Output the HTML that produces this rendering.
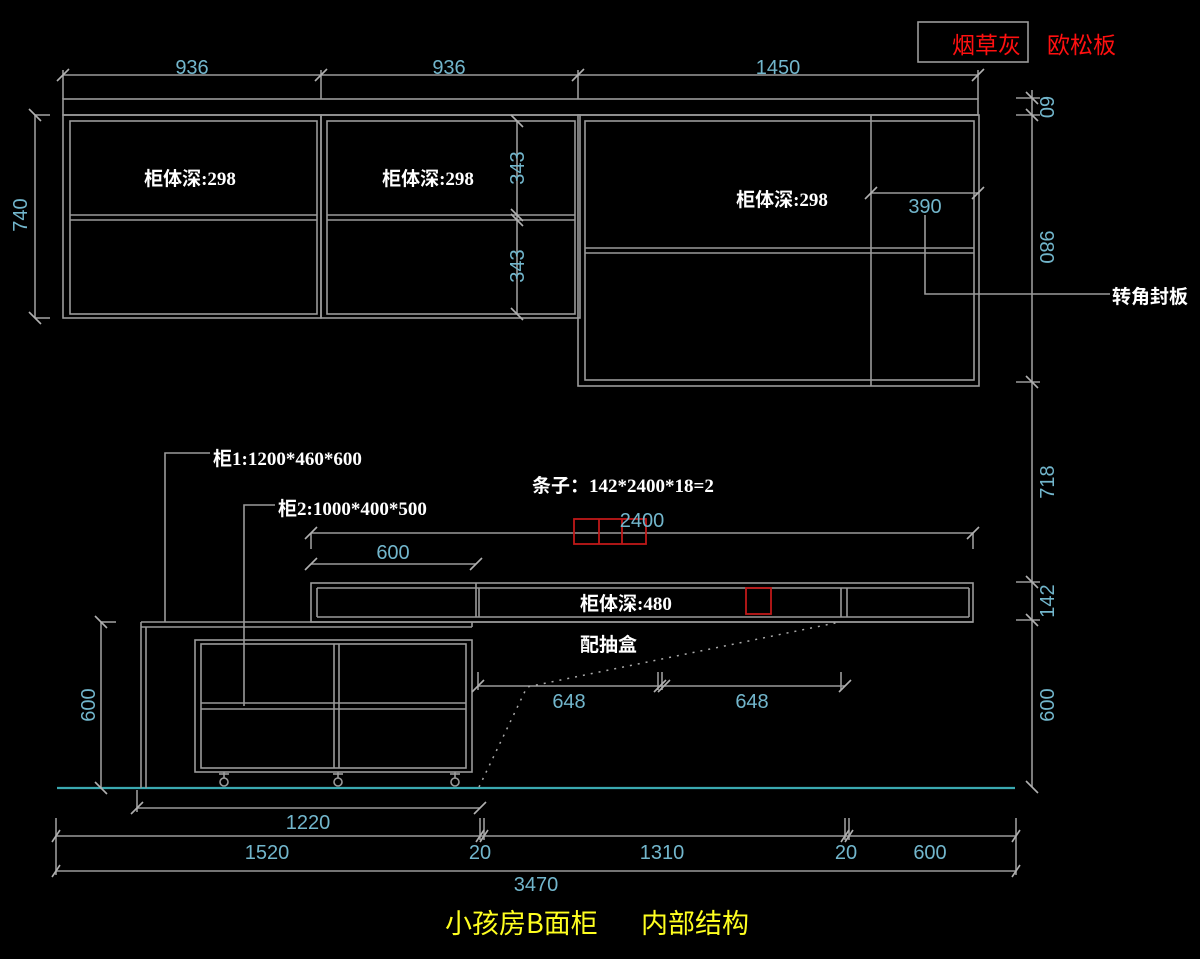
<!DOCTYPE html>
<html><head><meta charset="utf-8"><style>
html,body{margin:0;padding:0;background:#000;}
svg{display:block;}
.l{stroke:#9a9a9a;stroke-width:1.6;fill:none;}
.t{stroke:#b0b0b0;stroke-width:1.6;}
.d{fill:#72b6cc;font-family:"Liberation Sans",sans-serif;font-size:20px;}
.w{fill:#fff;font-family:"Liberation Serif","Noto Sans CJK SC",serif;font-size:19px;font-weight:bold;}
</style></head><body>
<svg width="1200" height="959" viewBox="0 0 1200 959" xmlns="http://www.w3.org/2000/svg">
<rect width="1200" height="959" fill="#000"/>
<!-- top legend -->
<rect x="918" y="22" width="110" height="40" fill="none" stroke="#9a9a9a" stroke-width="1.6"/>
<text x="952" y="53" fill="#ff1010" font-family="'Noto Sans CJK SC',sans-serif" font-size="23">烟草灰</text>
<text x="1047" y="53" fill="#ff1010" font-family="'Noto Sans CJK SC',sans-serif" font-size="23">欧松板</text>

<!-- top dims -->
<g class="l">
<line x1="63" y1="75" x2="978" y2="75"/>
<line x1="63" y1="70" x2="63" y2="99"/><line x1="321" y1="70" x2="321" y2="99"/><line x1="578" y1="70" x2="578" y2="99"/><line x1="978" y1="70" x2="978" y2="99"/>
</g>
<g class="t">
<line x1="57" y1="81" x2="69" y2="69"/><line x1="315" y1="81" x2="327" y2="69"/><line x1="572" y1="81" x2="584" y2="69"/><line x1="972" y1="81" x2="984" y2="69"/>
</g>
<text class="d" x="192" y="74" text-anchor="middle">936</text>
<text class="d" x="449" y="74" text-anchor="middle">936</text>
<text class="d" x="778" y="74" text-anchor="middle">1450</text>

<!-- top board -->
<g class="l">
<rect x="63" y="99" width="915" height="16"/>
<!-- left cabinet -->
<rect x="63" y="115" width="258" height="203"/>
<rect x="70" y="121" width="247" height="193"/>
<line x1="70" y1="215" x2="317" y2="215"/><line x1="70" y1="220" x2="317" y2="220"/>
<!-- mid cabinet -->
<rect x="321" y="115" width="259" height="203"/>
<rect x="327" y="121" width="248" height="193"/>
<line x1="327" y1="215" x2="575" y2="215"/><line x1="327" y1="220" x2="575" y2="220"/>
<!-- right cabinet -->
<rect x="578" y="115" width="401" height="271"/>
<rect x="585" y="121" width="389" height="259"/>
<line x1="585" y1="248" x2="974" y2="248"/><line x1="585" y1="253" x2="974" y2="253"/>
<line x1="871" y1="115" x2="871" y2="386"/>
<!-- 740 -->
<line x1="35" y1="115" x2="35" y2="318"/><line x1="35" y1="115" x2="50" y2="115"/><line x1="35" y1="318" x2="50" y2="318"/>
<!-- 343 -->
<line x1="517" y1="121" x2="517" y2="314"/>
<!-- 390 -->
<line x1="871" y1="193" x2="978" y2="193"/>
<polyline points="925,215 925,294 1110,294"/>
<!-- right verticals -->
<line x1="1032" y1="90" x2="1032" y2="787"/>
<line x1="1016" y1="98" x2="1040" y2="98"/><line x1="1016" y1="115" x2="1040" y2="115"/><line x1="1016" y1="382" x2="1040" y2="382"/>
<line x1="1016" y1="582" x2="1040" y2="582"/><line x1="1016" y1="620" x2="1040" y2="620"/>
</g>
<g class="t">
<line x1="29" y1="109" x2="41" y2="121"/><line x1="29" y1="312" x2="41" y2="324"/>
<line x1="511" y1="115" x2="523" y2="127"/><line x1="511" y1="209" x2="523" y2="221"/><line x1="511" y1="214" x2="523" y2="226"/><line x1="511" y1="308" x2="523" y2="320"/>
<line x1="865" y1="199" x2="877" y2="187"/><line x1="972" y1="199" x2="984" y2="187"/>
<line x1="1026" y1="92" x2="1038" y2="104"/><line x1="1026" y1="109" x2="1038" y2="121"/><line x1="1026" y1="376" x2="1038" y2="388"/>
<line x1="1026" y1="576" x2="1038" y2="588"/><line x1="1026" y1="614" x2="1038" y2="626"/><line x1="1026" y1="781" x2="1038" y2="793"/>
</g>
<text class="d" transform="translate(27,215) rotate(-90)" text-anchor="middle">740</text>
<text class="d" transform="translate(524,168) rotate(-90)" text-anchor="middle">343</text>
<text class="d" transform="translate(524,266) rotate(-90)" text-anchor="middle">343</text>
<text class="d" x="925" y="213" text-anchor="middle">390</text>
<text class="d" transform="translate(1040,107) rotate(90)" text-anchor="middle">60</text>
<text class="d" transform="translate(1040,247) rotate(90)" text-anchor="middle">980</text>
<text class="d" transform="translate(1054,482) rotate(-90)" text-anchor="middle">718</text>
<text class="d" transform="translate(1054,601) rotate(-90)" text-anchor="middle">142</text>
<text class="d" transform="translate(1054,705) rotate(-90)" text-anchor="middle">600</text>
<text class="w" x="190" y="185" text-anchor="middle">柜体深:298</text>
<text class="w" x="428" y="185" text-anchor="middle">柜体深:298</text>
<text class="w" x="782" y="206" text-anchor="middle">柜体深:298</text>
<text class="w" x="1112" y="303">转角封板</text>

<!-- lower -->
<line x1="57" y1="788" x2="1015" y2="788" stroke="#3aa8b0" stroke-width="2.2"/>
<g class="l">
<!-- cabinet1 -->
<line x1="141" y1="622" x2="973" y2="622"/>
<line x1="141" y1="627" x2="472" y2="627"/>
<line x1="472" y1="622" x2="472" y2="627"/>
<line x1="141" y1="622" x2="141" y2="788"/><line x1="146" y1="627" x2="146" y2="788"/>
<!-- cabinet2 -->
<rect x="195" y="640" width="277" height="132"/>
<rect x="201" y="644" width="265" height="124"/>
<line x1="334" y1="644" x2="334" y2="768"/><line x1="339" y1="644" x2="339" y2="768"/>
<line x1="201" y1="703" x2="466" y2="703"/><line x1="201" y1="709" x2="466" y2="709"/>
<!-- wheels -->
<line x1="219" y1="774" x2="229" y2="774"/><line x1="224" y1="772" x2="224" y2="778"/><circle cx="224" cy="782" r="4"/>
<line x1="333" y1="774" x2="343" y2="774"/><line x1="338" y1="772" x2="338" y2="778"/><circle cx="338" cy="782" r="4"/>
<line x1="450" y1="774" x2="460" y2="774"/><line x1="455" y1="772" x2="455" y2="778"/><circle cx="455" cy="782" r="4"/>
<!-- wall cabinet -->
<rect x="311" y="583" width="662" height="39"/>
<line x1="317" y1="588" x2="969" y2="588"/><line x1="317" y1="617" x2="969" y2="617"/>
<line x1="317" y1="588" x2="317" y2="617"/><line x1="969" y1="588" x2="969" y2="617"/>
<line x1="476" y1="583" x2="476" y2="617"/><line x1="479" y1="588" x2="479" y2="617"/>
<line x1="841" y1="588" x2="841" y2="617"/><line x1="847" y1="588" x2="847" y2="617"/>
<!-- left 600 -->
<line x1="101" y1="622" x2="101" y2="788"/><line x1="101" y1="622" x2="116" y2="622"/>
<!-- leaders -->
<polyline points="165,622 165,453 210,453"/>
<polyline points="244,706 244,505 275,505"/>
<!-- 600 / 2400 -->
<line x1="311" y1="564" x2="476" y2="564"/>
<line x1="311" y1="533" x2="973" y2="533"/><line x1="311" y1="533" x2="311" y2="549"/><line x1="973" y1="533" x2="973" y2="549"/>
<!-- 648 -->
<line x1="478" y1="686" x2="845" y2="686"/>
<line x1="478" y1="672" x2="478" y2="690"/><line x1="658" y1="672" x2="658" y2="690"/><line x1="662" y1="672" x2="662" y2="690"/><line x1="841" y1="672" x2="841" y2="690"/>
<!-- bottom dims -->
<line x1="137" y1="808" x2="480" y2="808"/>
<line x1="56" y1="836" x2="1016" y2="836"/>
<line x1="56" y1="871" x2="1016" y2="871"/>
<line x1="56" y1="818" x2="56" y2="875"/><line x1="1016" y1="818" x2="1016" y2="875"/>
<line x1="480" y1="818" x2="480" y2="840"/><line x1="484" y1="818" x2="484" y2="840"/>
<line x1="845" y1="818" x2="845" y2="840"/><line x1="849" y1="818" x2="849" y2="840"/>
<line x1="137" y1="790" x2="137" y2="812"/>
</g>
<polyline points="479,787 527,687 840,622" fill="none" stroke="#aaa" stroke-width="1.5" stroke-dasharray="2,6"/>
<g class="t">
<line x1="95" y1="616" x2="107" y2="628"/><line x1="95" y1="782" x2="107" y2="794"/>
<line x1="305" y1="570" x2="317" y2="558"/><line x1="470" y1="570" x2="482" y2="558"/>
<line x1="305" y1="539" x2="317" y2="527"/><line x1="967" y1="539" x2="979" y2="527"/>
<line x1="472" y1="692" x2="484" y2="680"/><line x1="654" y1="692" x2="666" y2="680"/><line x1="658" y1="692" x2="670" y2="680"/><line x1="839" y1="692" x2="851" y2="680"/>
<line x1="131" y1="814" x2="143" y2="802"/><line x1="474" y1="814" x2="486" y2="802"/>
<line x1="52" y1="842" x2="60" y2="830"/><line x1="476" y1="842" x2="484" y2="830"/><line x1="480" y1="842" x2="488" y2="830"/><line x1="841" y1="842" x2="849" y2="830"/><line x1="845" y1="842" x2="853" y2="830"/><line x1="1012" y1="842" x2="1020" y2="830"/>
<line x1="52" y1="877" x2="60" y2="865"/><line x1="1012" y1="877" x2="1020" y2="865"/>
</g>
<!-- red boxes -->
<g fill="none" stroke="#c01818" stroke-width="1.8">
<rect x="574" y="519" width="72" height="25"/><line x1="599" y1="519" x2="599" y2="544"/><line x1="622" y1="519" x2="622" y2="544"/>
<rect x="746" y="588" width="25" height="26"/>
</g>
<text class="d" x="642" y="527" text-anchor="middle">2400</text>
<text class="d" x="393" y="559" text-anchor="middle">600</text>
<text class="d" x="569" y="708" text-anchor="middle">648</text>
<text class="d" x="752" y="708" text-anchor="middle">648</text>
<text class="d" transform="translate(95,705) rotate(-90)" text-anchor="middle">600</text>
<text class="d" x="308" y="829" text-anchor="middle">1220</text>
<text class="d" x="267" y="859" text-anchor="middle">1520</text>
<text class="d" x="480" y="859" text-anchor="middle">20</text>
<text class="d" x="662" y="859" text-anchor="middle">1310</text>
<text class="d" x="846" y="859" text-anchor="middle">20</text>
<text class="d" x="930" y="859" text-anchor="middle">600</text>
<text class="d" x="536" y="891" text-anchor="middle">3470</text>
<text class="w" x="213" y="465">柜1:1200*460*600</text>
<text class="w" x="278" y="515">柜2:1000*400*500</text>
<text class="w" x="532" y="492">条子：142*2400*18=2</text>
<text class="w" x="580" y="610">柜体深:480</text>
<text class="w" x="580" y="651">配抽盒</text>
<text x="445" y="933" fill="#ffff20" font-family="'Noto Sans CJK SC',sans-serif" font-size="27">小孩房B面柜</text>
<text x="641" y="933" fill="#ffff20" font-family="'Noto Sans CJK SC',sans-serif" font-size="27">内部结构</text>
</svg>
</body></html>
